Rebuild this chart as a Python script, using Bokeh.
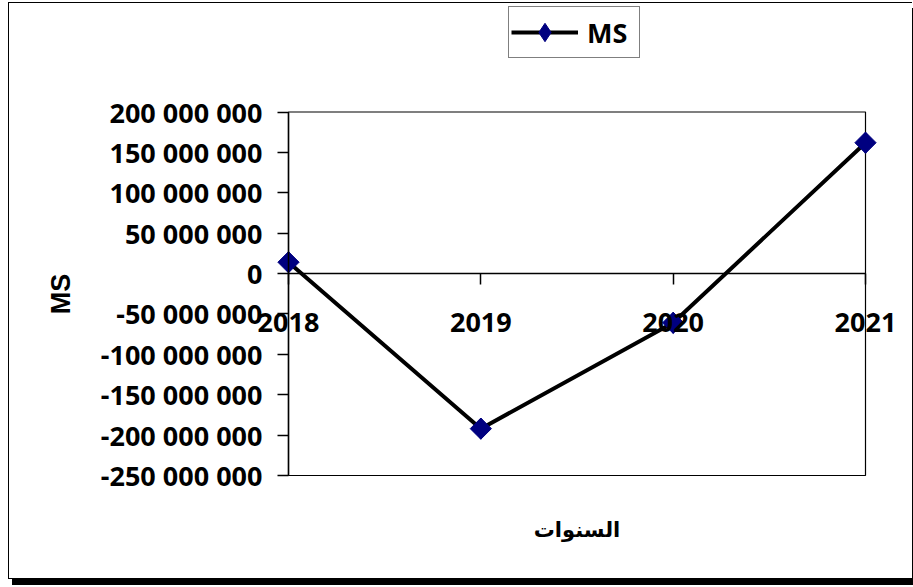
from bokeh.plotting import figure
from bokeh.models import (Range1d, FixedTicker, LinearAxis, Legend, LegendItem,
                          BoxAnnotation)
from bokeh.embed import file_html
from bokeh.resources import INLINE

# ---- data ----
years = [2018, 2019, 2020, 2021]
year_labels = ["2018", "2019", "2020", "2021"]
ms_values = [14_000_000, -192_000_000, -61_000_000, 162_000_000]
y_ticks = [-250_000_000, -200_000_000, -150_000_000, -100_000_000, -50_000_000,
           0, 50_000_000, 100_000_000, 150_000_000, 200_000_000]
y_tick_labels = ["-250 000 000", "-200 000 000", "-150 000 000", "-100 000 000",
                 "-50 000 000", "0", "50 000 000", "100 000 000", "150 000 000",
                 "200 000 000"]
series_name = "MS"
x_title = "السنوات"
y_title = "MS"

NUM_FONT = "Noto Sans"
MARK_COLOR = "#000080"

# ---- layout geometry (canvas pixels) ----
W, H = 904, 577
PA_LEFT, PA_RIGHT, PA_TOP, PA_BOTTOM = 279, 856, 108.5, 472

x0, x1 = years[0], years[-1]
y0, y1 = y_ticks[0], y_ticks[-1]
sx = (x1 - x0) / (PA_RIGHT - PA_LEFT)
sy = (y1 - y0) / (PA_BOTTOM - PA_TOP)
x_range = Range1d(x0 - PA_LEFT * sx, x1 + (W - PA_RIGHT) * sx)
y_range = Range1d(y0 - (H - PA_BOTTOM) * sy, y1 + PA_TOP * sy)

p = figure(width=W, height=H, output_backend="svg", toolbar_location=None,
           x_range=x_range, y_range=y_range,
           x_axis_location=None, y_axis_location=None,
           min_border=0, min_border_left=0, min_border_right=0,
           min_border_top=0, min_border_bottom=0)
p.grid.visible = False
p.outline_line_color = None
p.background_fill_color = "white"
p.border_fill_color = "white"
p.styles = {"margin-left": "8px", "margin-top": "2px",
            "border-left": "1px solid #000", "border-top": "1px solid #000",
            "border-bottom": "1px solid #000", "box-shadow": "4px 6px 0 0 #000"}

# plot-area border
p.add_layout(BoxAnnotation(left=x0, right=x1, bottom=y0, top=y1,
                           fill_color=None, fill_alpha=0,
                           line_color="black", line_alpha=1, line_width=1.2,
                           level="underlay"))

line_r = p.line(years, ms_values, line_color="black", line_width=4)
# diamond glyph (used for the legend), fully covered by the rotated squares
legend_mark = p.scatter(years, ms_values, marker="diamond", size=21,
                        fill_color=MARK_COLOR, line_color=MARK_COLOR)
mark_r = p.scatter(years, ms_values, marker="square", size=15, angle=0.785398,
                   fill_color=MARK_COLOR, line_color=MARK_COLOR)

# y axis at the first category
ya = LinearAxis(fixed_location=x0, bounds=(y0, y1))
ya.ticker = FixedTicker(ticks=y_ticks)
ya.major_label_overrides = dict(zip(y_ticks, y_tick_labels))
ya.major_tick_out = 11
ya.major_tick_in = 0
ya.minor_tick_out = 0
ya.minor_tick_in = 0
ya.axis_line_width = 1.5
ya.axis_line_color = "black"
ya.major_tick_line_width = 1.5
ya.major_tick_line_color = "black"
ya.major_label_standoff = 15
ya.major_label_text_font = NUM_FONT
ya.major_label_text_font_style = "bold"
ya.major_label_text_font_size = "27px"
ya.major_label_text_color = "black"
ya.axis_label = y_title
ya.axis_label_text_font = "Liberation Sans"
ya.axis_label_text_font_style = "bold"
ya.axis_label_text_font_size = "27px"
ya.axis_label_text_color = "black"
ya.axis_label_standoff = 22
p.add_layout(ya, "left")

# x axis crossing at zero
xa = LinearAxis(fixed_location=0, bounds=(x0, x1))
xa.ticker = FixedTicker(ticks=years)
xa.major_label_overrides = dict(zip(years, year_labels))
xa.major_tick_out = 11
xa.major_tick_in = 0
xa.minor_tick_out = 0
xa.minor_tick_in = 0
xa.axis_line_width = 1.5
xa.axis_line_color = "black"
xa.major_tick_line_width = 1.5
xa.major_tick_line_color = "black"
xa.major_label_standoff = 28
xa.major_label_text_font = NUM_FONT
xa.major_label_text_font_style = "bold"
xa.major_label_text_font_size = "27px"
xa.major_label_text_color = "black"
xa.axis_label = x_title
xa.axis_label_text_font = "DejaVu Sans"
xa.axis_label_text_font_style = "bold"
xa.axis_label_text_font_size = "21px"
xa.axis_label_text_color = "black"
xa.axis_label_standoff = 183
p.add_layout(xa, "below")

legend = Legend(items=[LegendItem(label=series_name, renderers=[line_r, legend_mark])],
                location=(499, 522), orientation="vertical")
legend.border_line_color = "black"
legend.border_line_width = 1.5
legend.background_fill_alpha = 1
legend.label_text_font = NUM_FONT
legend.label_text_font_style = "bold"
legend.label_text_font_size = "27px"
legend.label_text_color = "black"
legend.glyph_width = 67
legend.glyph_height = 46
legend.label_width = 50
legend.padding = 2
legend.margin = 0
legend.label_standoff = 9
p.add_layout(legend, "center")

open("out.html", "w").write(file_html(p, INLINE))
